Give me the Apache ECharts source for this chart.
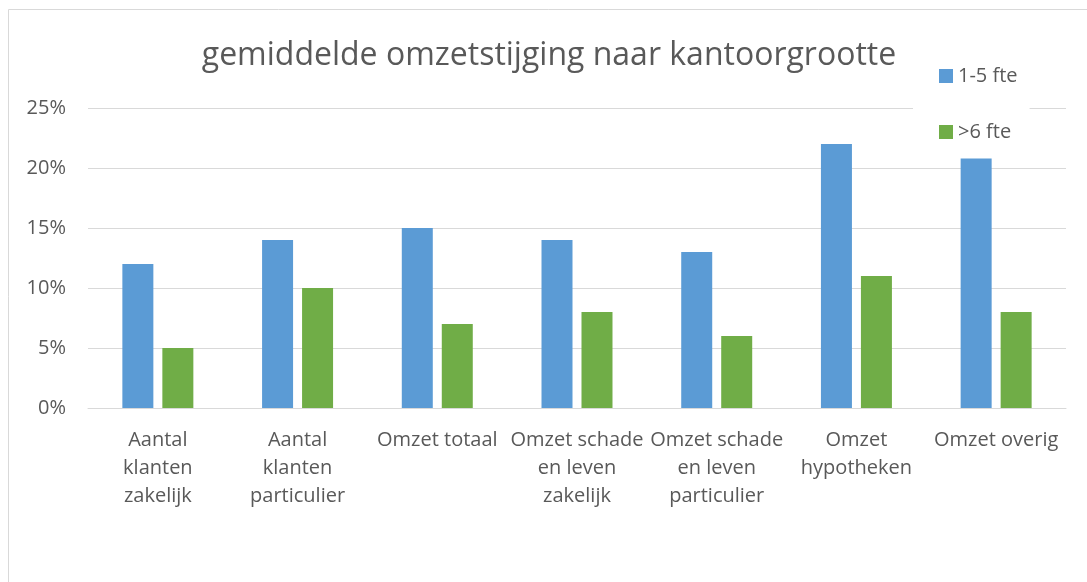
<!DOCTYPE html>
<html>
<head>
<meta charset="utf-8">
<script src="https://cdn.jsdelivr.net/npm/echarts@6/dist/echarts.min.js"></script>
<style>
    html, body { margin: 0; padding: 0; background: #fff; }
    #chart { width: 1087px; height: 582px; }
</style>
</head>
<body>
<div id="chart"></div>
<script>
    var categories = [
        'Aantal\nklanten\nzakelijk',
        'Aantal\nklanten\nparticulier',
        'Omzet totaal',
        'Omzet schade\nen leven\nzakelijk',
        'Omzet schade\nen leven\nparticulier',
        'Omzet\nhypotheken',
        'Omzet overig'
    ];
    var small = [12, 14, 15, 14, 13, 22, 20.8];
    var large = [5, 10, 7, 8, 6, 11, 8];
    var seriesNames = ['1-5 fte', '>6 fte'];

    var textColor = '#595959';
    var font = 'Open Sans';

    var chart = echarts.init(document.getElementById('chart'));
    chart.setOption({
        animation: false,
        textStyle: { fontFamily: font },
        graphic: [{
            type: 'rect',
            shape: { x: 8.5, y: 9.5, width: 1200, height: 700 },
            style: { fill: 'none', stroke: '#d9d9d9', lineWidth: 1 }
        }],
        title: {
            text: 'gemiddelde omzetstijging naar kantoorgrootte',
            left: 544,
            textAlign: 'center',
            top: 35,
            textStyle: { fontFamily: font, fontSize: 32, fontWeight: 'normal', color: textColor }
        },
        legend: {
            orient: 'vertical',
            left: 913,
            top: 58,
            itemWidth: 14,
            itemHeight: 14,
            itemGap: 36,
            itemTextGap: 4,
            padding: [8, 12, 8, 26],
            backgroundColor: '#fff',
            icon: 'rect',
            textStyle: { fontFamily: font, fontSize: 20, color: textColor },
            data: seriesNames
        },
        grid: { left: 88, right: 21, top: 108, bottom: 174 },
        xAxis: {
            type: 'category',
            data: categories,
            axisLine: { lineStyle: { color: '#d9d9d9' } },
            axisTick: { show: false },
            axisLabel: {
                interval: 0,
                margin: 18,
                fontSize: 20,
                lineHeight: 28,
                color: textColor,
                fontFamily: font
            }
        },
        yAxis: {
            type: 'value',
            min: 0,
            max: 25,
            interval: 5,
            axisLine: { show: false },
            axisTick: { show: false },
            splitLine: { lineStyle: { color: '#d9d9d9', width: 1 } },
            axisLabel: {
                formatter: '{value}%',
                margin: 22,
                fontSize: 20,
                color: textColor,
                fontFamily: font
            }
        },
        series: [{
            name: seriesNames[0],
            type: 'bar',
            data: small,
            barWidth: 31,
            barGap: '29%',
            itemStyle: { color: '#5b9bd5' },
            z: 3
        }, {
            name: seriesNames[1],
            type: 'bar',
            data: large,
            barWidth: 31,
            itemStyle: { color: '#70ad47' },
            z: 3
        }]
    });
</script>
</body>
</html>
